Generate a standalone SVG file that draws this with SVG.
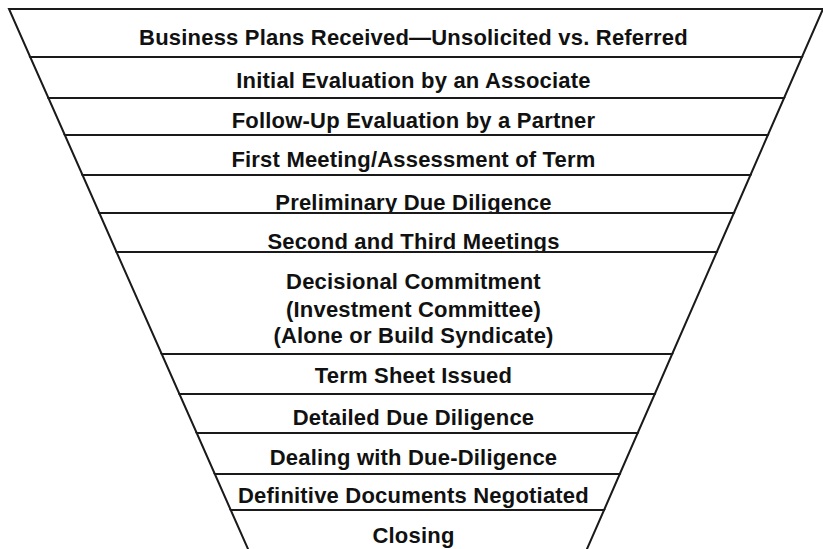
<svg xmlns="http://www.w3.org/2000/svg" width="823" height="549" viewBox="0 0 823 549">
<style>
.tier{fill:#ffffff;stroke:#1a1a1a;stroke-width:2;stroke-linejoin:miter}
.lbl{font-family:"Liberation Sans",Arial,sans-serif;font-weight:bold;font-size:22px;letter-spacing:0.2px;fill:#111111;text-anchor:middle}
</style>
<rect x="0" y="0" width="823" height="549" fill="#ffffff"/>
<g id="stage1"><polygon class="tier" points="9,9 823,9 802,57 30.2,57"/><text class="lbl" x="413.5" y="45">Business Plans Received—Unsolicited vs. Referred</text></g>
<g id="stage2"><polygon class="tier" points="30.2,57 802,57 784.1,98 48.4,98"/><text class="lbl" x="413.5" y="88">Initial Evaluation by an Associate</text></g>
<g id="stage3"><polygon class="tier" points="48.4,98 784.1,98 767.9,135 64.8,135"/><text class="lbl" x="413.5" y="128">Follow-Up Evaluation by a Partner</text></g>
<g id="stage4"><polygon class="tier" points="64.8,135 767.9,135 750.5,175 82.5,175"/><text class="lbl" x="413.5" y="167">First Meeting/Assessment of Term</text></g>
<g id="stage5"><polygon class="tier" points="82.5,175 750.5,175 733.9,213 99.3,213"/><text class="lbl" x="413.5" y="210">Preliminary Due Diligence</text></g>
<g id="stage6"><polygon class="tier" points="99.3,213 733.9,213 716.8,252 116.5,252"/><text class="lbl" x="413.5" y="249">Second and Third Meetings</text></g>
<g id="stage7"><polygon class="tier" points="116.5,252 716.8,252 672.2,354 161.7,354"/><text class="lbl" x="413.5" y="289">Decisional Commitment</text><text class="lbl" x="413.5" y="317">(Investment Committee)</text><text class="lbl" x="413.5" y="343">(Alone or Build Syndicate)</text></g>
<g id="stage8"><polygon class="tier" points="161.7,354 672.2,354 654.8,394 179.4,394"/><text class="lbl" x="413.5" y="383">Term Sheet Issued</text></g>
<g id="stage9"><polygon class="tier" points="179.4,394 654.8,394 637.7,433 196.7,433"/><text class="lbl" x="413.5" y="425">Detailed Due Diligence</text></g>
<g id="stage10"><polygon class="tier" points="196.7,433 637.7,433 619.8,474 214.8,474"/><text class="lbl" x="413.5" y="465">Dealing with Due-Diligence</text></g>
<g id="stage11"><polygon class="tier" points="214.8,474 619.8,474 604.1,510 230.7,510"/><text class="lbl" x="413.5" y="503">Definitive Documents Negotiated</text></g>
<g id="stage12"><polygon class="tier" points="230.7,510 604.1,510 586.1,551 248.9,551"/><text class="lbl" x="413.5" y="543">Closing</text></g>
<g id="connectors"/>
</svg>
